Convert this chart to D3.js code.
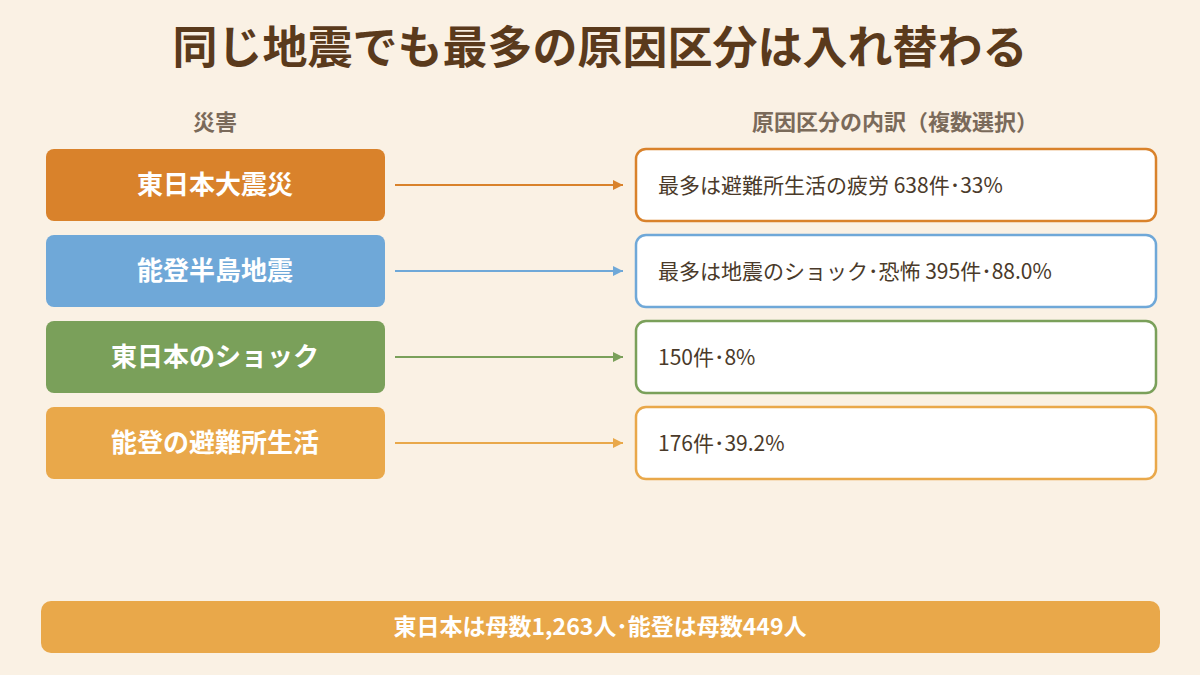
<!DOCTYPE html>
<html><head><meta charset="utf-8">
<script src="https://cdn.jsdelivr.net/npm/d3@7"></script>
<style>body{margin:0;background:#faf1e4;}svg{display:block;font-family:"Noto Sans CJK JP","Noto Sans",sans-serif;}</style>
</head><body><svg id="c" width="1200" height="675"></svg>
<script>
const disasters = ["東日本大震災","能登半島地震","東日本のショック","能登の避難所生活"];
const details = ["最多は避難所生活の疲労 638件･33%","最多は地震のショック･恐怖 395件･88.0%","150件･8%","176件･39.2%"];
const colors = ["#d9822b","#6fa8d8","#7aa05a","#e9a84a"];
const title = "同じ地震でも最多の原因区分は入れ替わる";
const headers = ["災害","原因区分の内訳（複数選択）"];
const footnote = "東日本は母数1,263人･能登は母数449人";

const svg = d3.select("#c");
svg.append("rect").attr("width",1200).attr("height",675).attr("fill","#faf1e4");
svg.append("text").attr("x",600).attr("y",64).attr("text-anchor","middle").attr("font-size",45).attr("font-weight",700).attr("fill","#5a3a1c").text(title);
svg.append("text").attr("x",215).attr("y",130).attr("text-anchor","middle").attr("font-size",22).attr("font-weight",700).attr("fill","#7a6a5a").text(headers[0]);
svg.append("text").attr("x",895).attr("y",130).attr("text-anchor","middle").attr("font-size",22).attr("font-weight",700).attr("fill","#7a6a5a").text(headers[1]);

const y = d3.scaleBand().domain(d3.range(disasters.length)).range([149,479]).paddingInner(0.163).paddingOuter(0);
const defs = svg.append("defs");
colors.forEach((c,i)=>{
  defs.append("marker").attr("id","m"+i).attr("viewBox","0 0 10 10").attr("refX",10).attr("refY",5)
    .attr("markerWidth",10).attr("markerHeight",10).attr("markerUnits","userSpaceOnUse").attr("orient","auto")
    .append("path").attr("d","M0,0L10,5L0,10Z").attr("fill",c);
});
const g = svg.selectAll("g.row").data(disasters).join("g");
g.append("rect").attr("x",46).attr("y",(d,i)=>y(i)).attr("width",339).attr("height",y.bandwidth()).attr("rx",8).attr("fill",(d,i)=>colors[i]);
g.append("text").attr("x",215).attr("y",(d,i)=>y(i)+y.bandwidth()/2+9).attr("text-anchor","middle").attr("font-size",26).attr("font-weight",700).attr("fill","#fff").text(d=>d);
g.append("line").attr("x1",395).attr("x2",623).attr("y1",(d,i)=>y(i)+y.bandwidth()/2).attr("y2",(d,i)=>y(i)+y.bandwidth()/2)
  .attr("stroke",(d,i)=>colors[i]).attr("stroke-width",2).attr("marker-end",(d,i)=>`url(#m${i})`);
g.append("rect").attr("x",636).attr("y",(d,i)=>y(i)).attr("width",520).attr("height",y.bandwidth()).attr("rx",10).attr("fill","#fff").attr("stroke",(d,i)=>colors[i]).attr("stroke-width",2.5);
g.append("text").attr("x",658).attr("y",(d,i)=>y(i)+y.bandwidth()/2+8).attr("font-size",21).attr("fill","#4a3a2a").text((d,i)=>details[i]);

svg.append("rect").attr("x",41).attr("y",601).attr("width",1119).attr("height",52).attr("rx",10).attr("fill","#e9a84a");
svg.append("text").attr("x",600).attr("y",635).attr("text-anchor","middle").attr("font-size",23).attr("font-weight",700).attr("fill","#fff").text(footnote);
</script></body></html>
